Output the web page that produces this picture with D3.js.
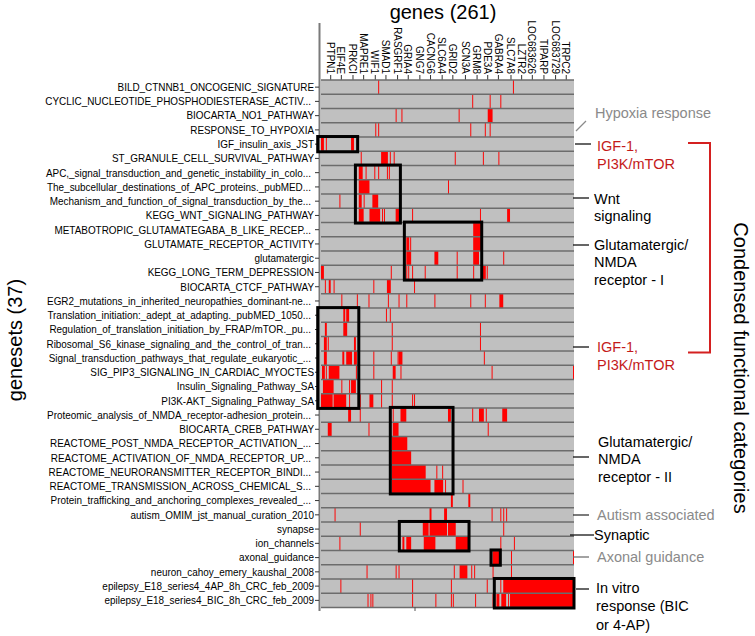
<!DOCTYPE html>
<html><head><meta charset="utf-8">
<script src="https://cdn.jsdelivr.net/npm/d3@7"></script>
<style>body{margin:0;background:#fff}svg{display:block}</style>
</head><body>
<script>
// ---------------- DATA ----------------
const nGenes = 261;
const genesetNames = [
 "BILD_CTNNB1_ONCOGENIC_SIGNATURE",
 "CYCLIC_NUCLEOTIDE_PHOSPHODIESTERASE_ACTIV...",
 "BIOCARTA_NO1_PATHWAY",
 "RESPONSE_TO_HYPOXIA",
 "IGF_insulin_axis_JST",
 "ST_GRANULE_CELL_SURVIVAL_PATHWAY",
 "APC,_signal_transduction_and_genetic_instability_in_colo...",
 "The_subcellular_destinations_of_APC_proteins._pubMED...",
 "Mechanism_and_function_of_signal_transduction_by_the...",
 "KEGG_WNT_SIGNALING_PATHWAY",
 "METABOTROPIC_GLUTAMATEGABA_B_LIKE_RECEP...",
 "GLUTAMATE_RECEPTOR_ACTIVITY",
 "glutamatergic",
 "KEGG_LONG_TERM_DEPRESSION",
 "BIOCARTA_CTCF_PATHWAY",
 "EGR2_mutations_in_inherited_neuropathies_dominant-ne...",
 "Translation_initiation:_adept_at_adapting._pubMED_1050...",
 "Regulation_of_translation_initiation_by_FRAP/mTOR._pu...",
 "Ribosomal_S6_kinase_signaling_and_the_control_of_tran...",
 "Signal_transduction_pathways_that_regulate_eukaryotic_...",
 "SIG_PIP3_SIGNALING_IN_CARDIAC_MYOCTES",
 "Insulin_Signaling_Pathway_SA",
 "PI3K-AKT_Signaling_Pathway_SA",
 "Proteomic_analysis_of_NMDA_receptor-adhesion_protein...",
 "BIOCARTA_CREB_PATHWAY",
 "REACTOME_POST_NMDA_RECEPTOR_ACTIVATION_...",
 "REACTOME_ACTIVATION_OF_NMDA_RECEPTOR_UP...",
 "REACTOME_NEURORANSMITTER_RECEPTOR_BINDI...",
 "REACTOME_TRANSMISSION_ACROSS_CHEMICAL_S...",
 "Protein_trafficking_and_anchoring_complexes_revealed_...",
 "autism_OMIM_jst_manual_curation_2010",
 "synapse",
 "ion_channels",
 "axonal_guidance",
 "neuron_cahoy_emery_kaushal_2008",
 "epilepsy_E18_series4_4AP_8h_CRC_feb_2009",
 "epilepsy_E18_series4_BIC_8h_CRC_feb_2009"
];
const geneTickIdx = [10,21,33,44,56,67,79,90,102,113,125,136,149,161,172,183,196,207,218,230,242,253];
const geneTickLabels = ["PTPN1","EIF4E","PRKCI","MAPRE1","WIF1","SMAD1","RASGRF1","GRIA4","GNG7","CACNG6",
 "SLC6A4","GRID2","SCN3A","GRM8","PDE3A","GABRA4","SLC7A8","LZTR2","LOC683626","TIPARP","LOC683729","TRPC2"];
// member genes per geneset (gene index or [first,last] run)
const hits = [
 [59,198],
 [156,174,185],
 [77,83,142,[172,176]],
 [56,59,154,169,174],
 [[0,2],5,[31,33]],
 [41,[62,68],71,75,138,167,183],
 [[39,42],46,55,59,68,70],
 [[39,49],131],
 [19,[39,41],44,[53,58]],
 [[39,43],[50,60],63,65,[77,80],94,164,[192,194]],
 [[157,164]],
 [[88,90],92,[157,164]],
 [[88,92],[117,120],140,[157,162],188],
 [[0,2],72,88,90,94,107,140,157,[166,169],171],
 [4,[8,9],13,54,[68,71],96],
 [21,37,49,69,80,88,117,154,169,[184,187]],
 [[23,24],[26,28],67,71],
 [[4,5],[23,26],73,164],
 [[3,5],7,[34,35],73,164],
 [[3,5],[22,23],[26,31],[34,36],54,72,79,[80,83],168],
 [[1,3],5,[8,18],36,54,[74,76],82,176,260],
 [[2,12],21,29,[31,35],62,73],
 [[0,11],[13,25],29,40,[50,53],62,73,94,96],
 [[28,30],40,74,[82,87],[131,133],156,[163,167],170,[187,191]],
 [[7,10],49,[74,79],172],
 [[73,88]],
 [[73,92]],
 [[73,107],119,125],
 [[73,112],[117,125],128,146],
 [[134,135],[152,153]],
 [14,[112,113],[127,129],176,185,188,191],
 [40,[105,110],[112,129],[131,138],188],
 [19,[84,85],[88,92],[106,117],[139,151],185,199],
 [[177,183],196,260],
 [47,77,80,137,[143,150],155,158,177,196],
 [20,94,134,171,185,[188,260]],
 [48,51,53,94,118,134,136,159,177,[181,183],[186,190],193,[195,260]]
];
// highlighted blocks: [firstGene, lastGene, firstRow, lastRow]
const blocks = [
 [-3.4,37.8,4,4],[35.5,81.9,6,9],[86,165.8,10,13],[-3.4,39,16,22],
 [71.5,136.2,23,28],[80.8,152.7,31,32],[175.4,185,33,33],[178.8,261,35,36]
];
const categoryLines = [
 ["Hypoxia response"],["IGF-1,","PI3K/mTOR"],["Wnt","signaling"],["Glutamatergic/","NMDA","receptor - I"],
 ["IGF-1,","PI3K/mTOR"],["Glutamatergic/","NMDA","receptor - II"],["Autism associated"],["Synaptic"],
 ["Axonal guidance"],["In vitro","response (BIC","or 4-AP)"]
];
const categoryColors = ["#8a8a8a","#c41a1a","#000","#000","#c41a1a","#000","#8a8a8a","#000","#8a8a8a","#000"];

// ---------------- DRAW ----------------
const W = 755, H = 636;
const FONT = "'Liberation Sans', Arial, sans-serif";
const svg = d3.select("body").append("svg").attr("width", W).attr("height", H)
  .style("font-family", FONT);

const x = d3.scaleLinear().domain([0, nGenes]).range([321, 574]);
const y = d3.scaleBand().domain(d3.range(genesetNames.length)).range([80, 607.5]);

// measure condensed label scale
const probe = svg.append("text").attr("font-size", 11);
probe.text(genesetNames[0]); const w1 = probe.node().getComputedTextLength();
probe.text(genesetNames[8]); const w2 = probe.node().getComputedTextLength();
probe.remove();
const sx = (196 / w1 + 262 / w2) / 2;

// background rows
svg.append("g").selectAll("rect").data(genesetNames).join("rect")
  .attr("x", x(0)).attr("width", x(nGenes) - x(0))
  .attr("y", (d, i) => y(i)).attr("height", y.bandwidth())
  .attr("fill", "#c0c0c0");

// hit cells
const cells = [];
hits.forEach((row, r) => row.forEach(h => {
  const a = Array.isArray(h) ? h[0] : h, b = Array.isArray(h) ? h[1] : h;
  cells.push({r, a, b});
}));
svg.append("g").selectAll("rect").data(cells).join("rect")
  .attr("x", d => x(d.a)).attr("width", d => x(d.b + 1) - x(d.a))
  .attr("y", d => y(d.r)).attr("height", y.bandwidth())
  .attr("fill", "#ff0000");

// row separators
svg.append("g").selectAll("line").data(d3.range(genesetNames.length + 1)).join("line")
  .attr("x1", x(0)).attr("x2", x(nGenes))
  .attr("y1", i => i < genesetNames.length ? y(i) : y.range()[1])
  .attr("y2", i => i < genesetNames.length ? y(i) : y.range()[1])
  .attr("stroke", "#6c6c6c").attr("stroke-width", 1.5);

// left axis line
svg.append("line").attr("x1", 319.5).attr("x2", 319.5).attr("y1", 23).attr("y2", 611)
  .attr("stroke", "#7a7a7a").attr("stroke-width", 2);
// bottom tick
svg.append("line").attr("x1", 415).attr("x2", 415).attr("y1", 607).attr("y2", 611)
  .attr("stroke", "#555").attr("stroke-width", 1);

// row labels + ticks
const rowG = svg.append("g");
genesetNames.forEach((name, i) => {
  const cy = y(i) + y.bandwidth() / 2;
  const gap = name.endsWith("...") ? 3 : 0;
  rowG.append("text")
    .attr("transform", `translate(${314 - gap},${cy}) scale(${sx},1)`)
    .attr("text-anchor", "end").attr("dy", "0.35em")
    .attr("font-size", 11).attr("fill", "#000").text(name);
  rowG.append("line").attr("x1", 315).attr("x2", 319).attr("y1", cy).attr("y2", cy)
    .attr("stroke", "#333").attr("stroke-width", 1);
});

// gene tick labels (rotated)
const colG = svg.append("g");
geneTickIdx.forEach((gi, k) => {
  const cx = x(gi);
  colG.append("text")
    .attr("transform", `translate(${cx},74) rotate(90) scale(${sx},1)`)
    .attr("text-anchor", "end").attr("dy", "0.35em")
    .attr("font-size", 11).attr("fill", "#000").text(geneTickLabels[k]);
  colG.append("line").attr("x1", cx).attr("x2", cx).attr("y1", 75).attr("y2", 79.5)
    .attr("stroke", "#333").attr("stroke-width", 1);
});

// highlighted blocks
svg.append("g").selectAll("rect").data(blocks).join("rect")
  .attr("x", d => x(d[0])).attr("width", d => x(d[1]) - x(d[0]))
  .attr("y", d => y(d[2]) - 0.5).attr("height", d => y(d[3]) + y.bandwidth() - y(d[2]) + 1)
  .attr("fill", "none").attr("stroke", "#000").attr("stroke-width", 3);

// titles
svg.append("text").attr("x", 443).attr("y", 19).attr("text-anchor", "middle")
  .attr("font-size", 20).text("genes (261)");
svg.append("text").attr("transform", "translate(22,340) rotate(-90)").attr("text-anchor", "middle")
  .attr("font-size", 20).text("genesets (37)");
svg.append("text").attr("transform", "translate(734,368) rotate(90)").attr("text-anchor", "middle")
  .attr("font-size", 20).text("Condensed functional categories");

// category annotations
const catTextX = [595, 597, 594, 594, 597, 598, 597, 594, 597, 596];
const catBase = [[118],[151,169],[204,221],[250,267,285],[352,370],[447,464,482],[520],[540],[562],[593,611,630]];
const leaders = [[576,131,586,121],[575,144,591,144],[573,198,589,198],[573,245,589,245],[573,347,589,347],
  [573,457,589,457],[573,515,589,515],[570,535,594,535],[573,557,589,557],[576,589,589,589]];
const leaderCol = ["#8a8a8a","#000","#000","#000","#000","#000","#222","#000","#666","#000"];
const annG = svg.append("g");
categoryLines.forEach((lines, k) => {
  const L = leaders[k];
  annG.append("line").attr("x1", L[0]).attr("y1", L[1]).attr("x2", L[2]).attr("y2", L[3])
    .attr("stroke", leaderCol[k]).attr("stroke-width", 1.2);
  lines.forEach((t, j) => {
    annG.append("text").attr("x", catTextX[k]).attr("y", catBase[k][j])
      .attr("font-size", 14.5).attr("fill", categoryColors[k]).text(t);
  });
});
// red bracket joining the IGF-1 categories
svg.append("path").attr("d", "M688,143H710V352.5H688")
  .attr("fill", "none").attr("stroke", "#d42020").attr("stroke-width", 2);
</script>
</body></html>
